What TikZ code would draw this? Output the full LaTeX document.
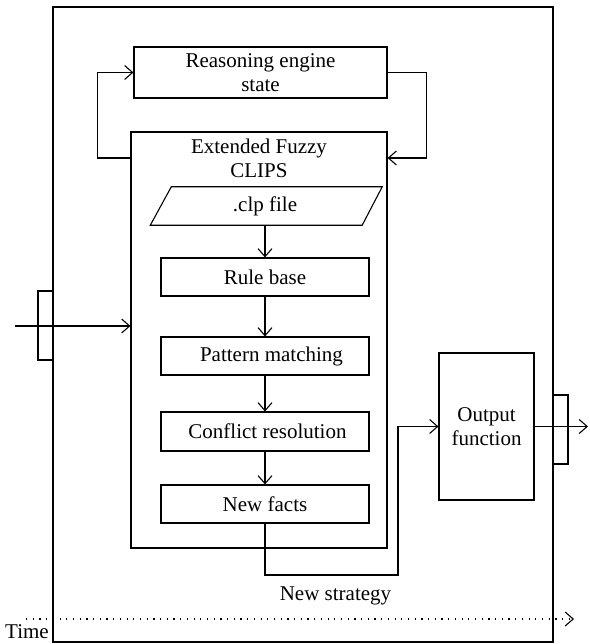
\documentclass[tikz,border=0pt]{standalone}
\usepackage{fontspec}
\setmainfont{Liberation Serif}
\usetikzlibrary{arrows.meta}
\tikzset{
  lw/.style={line width=1.1pt},
  box/.style={draw, lw, inner sep=0pt, align=center, font=\fontsize{21}{24}\selectfont},
  txt/.style={inner sep=0pt, align=center, font=\fontsize{21}{24}\selectfont},
  arr/.style={lw, -{Straight Barb[length=8pt,width=14pt,line width=1.1pt]}},
  timeline/.style={arr, dash pattern=on 1.2pt off 5.5pt}
}
\begin{document}
\begin{tikzpicture}[x=1pt,y=-1pt]
\useasboundingbox (0,0) rectangle (589,644);
% outer frame
\node[box, minimum width=500, minimum height=635] (outer) at (303,324.5) {};
% reasoning engine state
\node[box, minimum width=253, minimum height=51] (res) at (260.5,72.5) {Reasoning engine\\state};
% CLIPS container
\node[box, minimum width=256, minimum height=416] (clips) at (259,340) {};
\node[txt] (cliptitle) at (259,158) {Extended Fuzzy\\CLIPS};
% .clp file parallelogram
\node[txt, minimum width=208, minimum height=38] (clp) at (265,206) {.clp file};
\draw[lw] ([xshift=10.5pt]clp.north west) -- ([xshift=13pt]clp.north east)
  -- ([xshift=-7pt]clp.south east) -- ([xshift=-10.5pt]clp.south west) -- cycle;
% inner chain
\node[box, minimum width=208, minimum height=38] (rule) at (265,277) {Rule base};
\node[box, minimum width=208, minimum height=38] (pattern) at (265,356) {\hspace*{13pt}Pattern matching};
\node[box, minimum width=208, minimum height=39] (conflict) at (265,431.5) {\hspace*{5pt}Conflict resolution};
\node[box, minimum width=208, minimum height=38] (newfacts) at (265,504) {New facts};
% output function
\node[box, minimum width=95, minimum height=147] (output) at (486.5,426.5) {Output\\function};
% small input/output rectangles
\node[box, minimum width=15, minimum height=69] (lin) at (45.5,325.5) {};
\node[box, minimum width=15, minimum height=69] (rout) at (560.5,429.5) {};
% coordinates
\coordinate (inL) at (15,326);
\coordinate (outR) at (588,426.5);
\coordinate (s1) at (398,575);
\coordinate (t0) at (26,619);
\coordinate (t1) at (574,619);
% connectors
\draw[arr] (inL) -- (inL -| clips.west);
\draw[arr] (output.east) -- (outR);
\draw[arr] (clips.west |- cliptitle) -- ++(-33,0) |- (res.west);
\draw[arr] (res.east) -- ++(39,0) |- (clips.east |- cliptitle);
\draw[arr] (clp.south) -- (rule.north);
\draw[arr] (rule.south) -- (pattern.north);
\draw[arr] (pattern.south) -- (conflict.north);
\draw[arr] (conflict.south) -- (newfacts.north);
\draw[arr] (newfacts.south) |- (s1) |- (output.west);
% labels
\node[txt, anchor=base] (strat) at (335.5,600) {New strategy};
\node[txt, anchor=base west] (time) at (5,638) {Time};
% time axis
\draw[timeline] (t0) -- (t1);
\end{tikzpicture}
\end{document}
